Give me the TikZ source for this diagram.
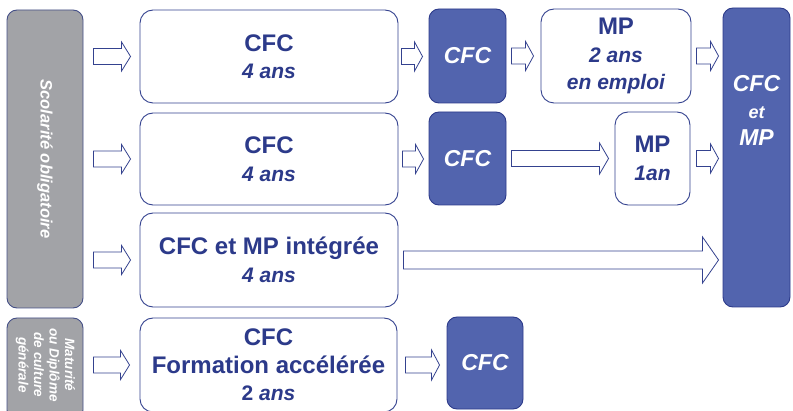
\documentclass[tikz,border=0pt]{standalone}
\usepackage{fontspec}
\setmainfont{Liberation Sans}
\usetikzlibrary{calc}
\definecolor{navy}{HTML}{2C3A8A}
\definecolor{boxblue}{HTML}{5264AE}
\definecolor{edgeblue}{HTML}{34428F}
\definecolor{grayfill}{HTML}{A2A3A7}
\tikzset{
  whitebox/.style={draw=edgeblue, line width=0.9pt, fill=white, rounded corners=13pt, inner sep=0pt, align=center, text=navy, font=\fontsize{24}{27.5}\selectfont\bfseries},
  darkbox/.style={draw=navy, line width=0.9pt, fill=boxblue, rounded corners=10pt, inner sep=0pt, align=center, text=white, font=\fontsize{23}{27.5}\selectfont\bfseries\itshape},
  graybox/.style={draw=navy!70!gray, line width=0.9pt, fill=grayfill, rounded corners=10pt, inner sep=0pt},
  barrowstyle/.style={draw=edgeblue, line width=0.8pt, fill=white, line join=miter},
}
\newcommand\sub[1]{{\fontsize{21}{27.5}\selectfont\itshape #1}}
\newcommand\barrow[5]{\draw[barrowstyle] let \p1=#1, \p2=#2 in
  (\x1,\y1+#3) -- (\x2-#5,\y1+#3) -- (\x2-#5,\y1+#4) -- (\x2,\y1) --
  (\x2-#5,\y1-#4) -- (\x2-#5,\y1-#3) -- (\x1,\y1-#3) -- cycle;}
\begin{document}
\begin{tikzpicture}[x=1pt,y=1pt]
\useasboundingbox (0,0) rectangle (793,410);
\clip (0,0) rectangle (793,410);
% left gray boxes
\node[graybox, minimum width=76pt, minimum height=298pt] (G1) at (45,251) {};
\node[rotate=-90, text=white, font=\fontsize{16.5}{18}\selectfont\bfseries\itshape] (G1t) at (G1.center) {Scolarité obligatoire};
\node[graybox, minimum width=76pt, minimum height=102pt] (G2) at (45,41) {};
\node[rotate=-90, text=white, align=center, font=\fontsize{13.5}{15.5}\selectfont\bfseries\itshape] (G2t) at (45.5,45) {Maturité\\ou Diplôme\\de culture\\générale};
% white boxes
\node[whitebox, minimum width=258pt, minimum height=93pt] (W1) at (269,353.5) {CFC\\\sub{4 ans}};
\node[whitebox, minimum width=258pt, minimum height=92pt] (W2) at (269,251) {CFC\\\sub{4 ans}};
\node[whitebox, minimum width=258pt, minimum height=94pt] (W3) at (269,150) {CFC et MP intégrée\\\sub{4 ans}};
\node[whitebox, minimum width=257pt, minimum height=94pt] (W4) at (268.5,45) {CFC\\Formation accélérée\\{\fontsize{21}{27.5}\selectfont 2 \itshape ans}};
% dark CFC boxes
\node[darkbox, minimum width=77pt, minimum height=94pt] (D1) at (467.5,354) {CFC};
\node[darkbox, minimum width=77pt, minimum height=93pt] (D2) at (467.5,251.5) {CFC};
\node[darkbox, minimum width=76pt, minimum height=92pt] (D4) at (485,47) {CFC};
% MP boxes
\node[whitebox, minimum width=150pt, minimum height=94pt] (M1) at (616,354) {MP\\\sub{2 ans}\\\sub{en emploi}};
\node[whitebox, minimum width=75pt, minimum height=93pt] (M2) at (652.5,251.5) {MP\\\sub{1an}};
% right box
\node[darkbox, minimum width=67pt, minimum height=299pt] (R) at (756.5,252.5) {};
\node[text=white, align=center, font=\fontsize{23}{27}\selectfont\bfseries\itshape] (Rt) at (756.5,300) {CFC\\{\fontsize{18}{27}\selectfont et}\\MP};
% arrows
\barrow{($(G1.east |- W1.west)+(10,0)$)}{($(W1.west)+(-9,0)$)}{8}{14.5}{9}
\barrow{($(G1.east |- W2.west)+(10,0)$)}{($(W2.west)+(-9,0)$)}{8}{14.5}{9}
\barrow{($(G1.east |- W3.west)+(10,0)$)}{($(W3.west)+(-9,0)$)}{8}{14.5}{9}
\barrow{($(G2.east |- W4.west)+(10,0)$)}{($(W4.west)+(-10,0)$)}{8}{14.5}{9}
\barrow{($(W1.east)+(3,0)$)}{($(D1.west)+(-6,0)$)}{8}{14.5}{8}
\barrow{($(D1.east)+(5,0)$)}{($(M1.west)+(-7,0)$)}{8}{14.5}{8}
\barrow{($(M1.east)+(5,0)$)}{($(R.west |- M1.east)+(-4,0)$)}{8}{14.5}{8}
\barrow{($(W2.east)+(4,0)$)}{($(D2.west)+(-5,0)$)}{8}{14.5}{8}
\barrow{($(D2.east)+(5,0)$)}{($(M2.west)+(-6,0)$)}{8}{15.5}{9}
\barrow{($(M2.east)+(6,0)$)}{($(R.west |- M2.east)+(-4,0)$)}{8}{14.5}{8}
\barrow{($(W3.east)+(5,0)$)}{($(R.west |- W3.east)+(-4,0)$)}{9}{23}{16}
\barrow{($(W4.east)+(8,0)$)}{($(D4.west)+(-7,0)$)}{8}{15}{8}
\end{tikzpicture}
\end{document}
